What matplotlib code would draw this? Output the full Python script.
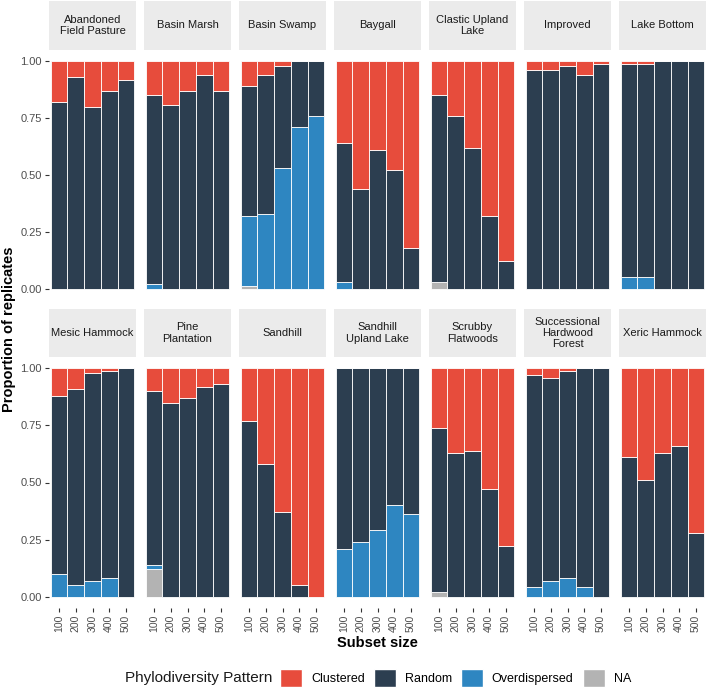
import matplotlib
matplotlib.use('Agg')
import matplotlib.pyplot as plt
from matplotlib.patches import Patch
import numpy as np

plt.rcParams['font.family'] = ['Liberation Sans', 'DejaVu Sans']

# ---------------- data ----------------
strip_labels = ["Abandoned\nField Pasture", "Basin Marsh", "Basin Swamp", "Baygall",
                "Clastic Upland\nLake", "Improved", "Lake Bottom",
                "Mesic Hammock", "Pine\nPlantation", "Sandhill", "Sandhill\nUpland Lake",
                "Scrubby\nFlatwoods", "Successional\nHardwood\nForest", "Xeric Hammock"]
subset_sizes = ["100", "200", "300", "400", "500"]

na_prop = [
    [0, 0, 0, 0, 0],
    [0, 0, 0, 0, 0],
    [0.01, 0, 0, 0, 0],
    [0, 0, 0, 0, 0],
    [0.03, 0, 0, 0, 0],
    [0, 0, 0, 0, 0],
    [0, 0, 0, 0, 0],
    [0, 0, 0, 0, 0],
    [0.12, 0, 0, 0, 0],
    [0, 0, 0, 0, 0],
    [0, 0, 0, 0, 0],
    [0.02, 0, 0, 0, 0],
    [0, 0, 0, 0, 0],
    [0, 0, 0, 0, 0],
]
overdispersed_prop = [
    [0, 0, 0, 0, 0],
    [0.02, 0, 0, 0, 0],
    [0.31, 0.33, 0.53, 0.71, 0.76],
    [0.03, 0, 0, 0, 0],
    [0, 0, 0, 0, 0],
    [0, 0, 0, 0, 0],
    [0.05, 0.05, 0, 0, 0],
    [0.10, 0.05, 0.07, 0.08, 0],
    [0.02, 0, 0, 0, 0],
    [0, 0, 0, 0, 0],
    [0.21, 0.24, 0.29, 0.40, 0.36],
    [0, 0, 0, 0, 0],
    [0.04, 0.07, 0.08, 0.04, 0],
    [0, 0, 0, 0, 0],
]
random_prop = [
    [0.82, 0.93, 0.80, 0.87, 0.92],
    [0.83, 0.81, 0.87, 0.94, 0.87],
    [0.57, 0.61, 0.45, 0.29, 0.24],
    [0.61, 0.44, 0.61, 0.52, 0.18],
    [0.82, 0.76, 0.62, 0.32, 0.12],
    [0.96, 0.96, 0.98, 0.94, 0.99],
    [0.94, 0.94, 1.00, 1.00, 1.00],
    [0.78, 0.86, 0.91, 0.91, 1.00],
    [0.76, 0.85, 0.87, 0.92, 0.93],
    [0.77, 0.58, 0.37, 0.05, 0.00],
    [0.79, 0.76, 0.71, 0.60, 0.64],
    [0.72, 0.63, 0.64, 0.47, 0.22],
    [0.93, 0.89, 0.91, 0.96, 1.00],
    [0.61, 0.51, 0.63, 0.66, 0.28],
]
clustered_prop = [
    [0.18, 0.07, 0.20, 0.13, 0.08],
    [0.15, 0.19, 0.13, 0.06, 0.13],
    [0.11, 0.06, 0.02, 0.00, 0.00],
    [0.36, 0.56, 0.39, 0.48, 0.82],
    [0.15, 0.24, 0.38, 0.68, 0.88],
    [0.04, 0.04, 0.02, 0.06, 0.01],
    [0.01, 0.01, 0.00, 0.00, 0.00],
    [0.12, 0.09, 0.02, 0.01, 0.00],
    [0.10, 0.15, 0.13, 0.08, 0.07],
    [0.23, 0.42, 0.63, 0.95, 1.00],
    [0.00, 0.00, 0.00, 0.00, 0.00],
    [0.26, 0.37, 0.36, 0.53, 0.78],
    [0.03, 0.04, 0.01, 0.00, 0.00],
    [0.39, 0.49, 0.37, 0.34, 0.72],
]

pattern_names = ["Clustered", "Random", "Overdispersed", "NA"]
pattern_colors = {"Clustered": "#E74C3C", "Random": "#2C3E50",
                  "Overdispersed": "#2E86C1", "NA": "#B3B3B3"}

# ---------------- layout ----------------
W, H = 709, 698
fig = plt.figure(figsize=(W / 100, H / 100), dpi=100)


def rect(x, y, w, h):
    return [x / W, 1 - (y + h) / H, w / W, h / H]


x = np.arange(1, 6)
for i in range(len(strip_labels)):
    r, c = divmod(i, 7)
    left = 49 + 95 * c
    if r == 0:
        s_top, s_h, p_top, p_h = 1, 49, 50, 250
    else:
        s_top, s_h, p_top, p_h = 309, 48, 357, 251
    ax = fig.add_axes(rect(left, p_top, 87, p_h))
    stacks = [("NA", na_prop[i]), ("Overdispersed", overdispersed_prop[i]),
              ("Random", random_prop[i]), ("Clustered", clustered_prop[i])]
    bottom = np.zeros(5)
    for name, vals in stacks:
        vals = np.array(vals, dtype=float)
        ax.bar(x, vals, bottom=bottom, width=1.0, color=pattern_colors[name],
               edgecolor='white', linewidth=0.6)
        bottom = bottom + vals
    ax.set_xlim(0.4, 5.6)
    ax.set_ylim(-0.05, 1.05)
    for sp in ax.spines.values():
        sp.set_visible(False)
    ax.set_yticks([0, 0.25, 0.5, 0.75, 1.0])
    if c == 0:
        ax.set_yticklabels(["0.00", "0.25", "0.50", "0.75", "1.00"])
        ax.tick_params(axis='y', length=3, width=0.8, color='#333333',
                       labelsize=8, labelcolor='#4D4D4D', pad=2)
    else:
        ax.tick_params(axis='y', length=0, labelleft=False)
    ax.set_xticks(x)
    if r == 1:
        ax.set_xticklabels(subset_sizes, rotation=90)
        ax.tick_params(axis='x', length=3, width=0.8, color='#333333',
                       labelsize=7.5, labelcolor='#4D4D4D', pad=2)
    else:
        ax.tick_params(axis='x', length=0, labelbottom=False)

    sax = fig.add_axes(rect(left, s_top, 87, s_h))
    sax.set_facecolor('#EBEBEB')
    sax.set_xticks([])
    sax.set_yticks([])
    for sp in sax.spines.values():
        sp.set_visible(False)
    sax.text(0.5, 0.5, strip_labels[i], ha='center', va='center',
             fontsize=8, color='#1A1A1A', linespacing=1.15,
             transform=sax.transAxes)

fig.text(9 / W, 1 - 329 / H, "Proportion of replicates", rotation=90,
         ha='center', va='center', fontsize=10.5, fontweight='bold')
fig.text(377.5 / W, 1 - 643 / H, "Subset size", ha='center', va='center',
         fontsize=10.5, fontweight='bold')

fig.text(272 / W, 1 - 678 / H, "Phylodiversity Pattern", ha='right', va='center',
         fontsize=11, color='#1A1A1A')
handles = [Patch(facecolor=pattern_colors[n], edgecolor='white', label=n)
           for n in pattern_names]
fig.legend(handles=handles, loc='center left', bbox_to_anchor=(280 / W, 1 - 678 / H),
           ncol=4, frameon=False, fontsize=9, handlelength=1.76, handleheight=1.76,
           columnspacing=0.72, handletextpad=0.72, borderaxespad=0, borderpad=0)

fig.savefig("out.png", dpi=100, facecolor='white')
